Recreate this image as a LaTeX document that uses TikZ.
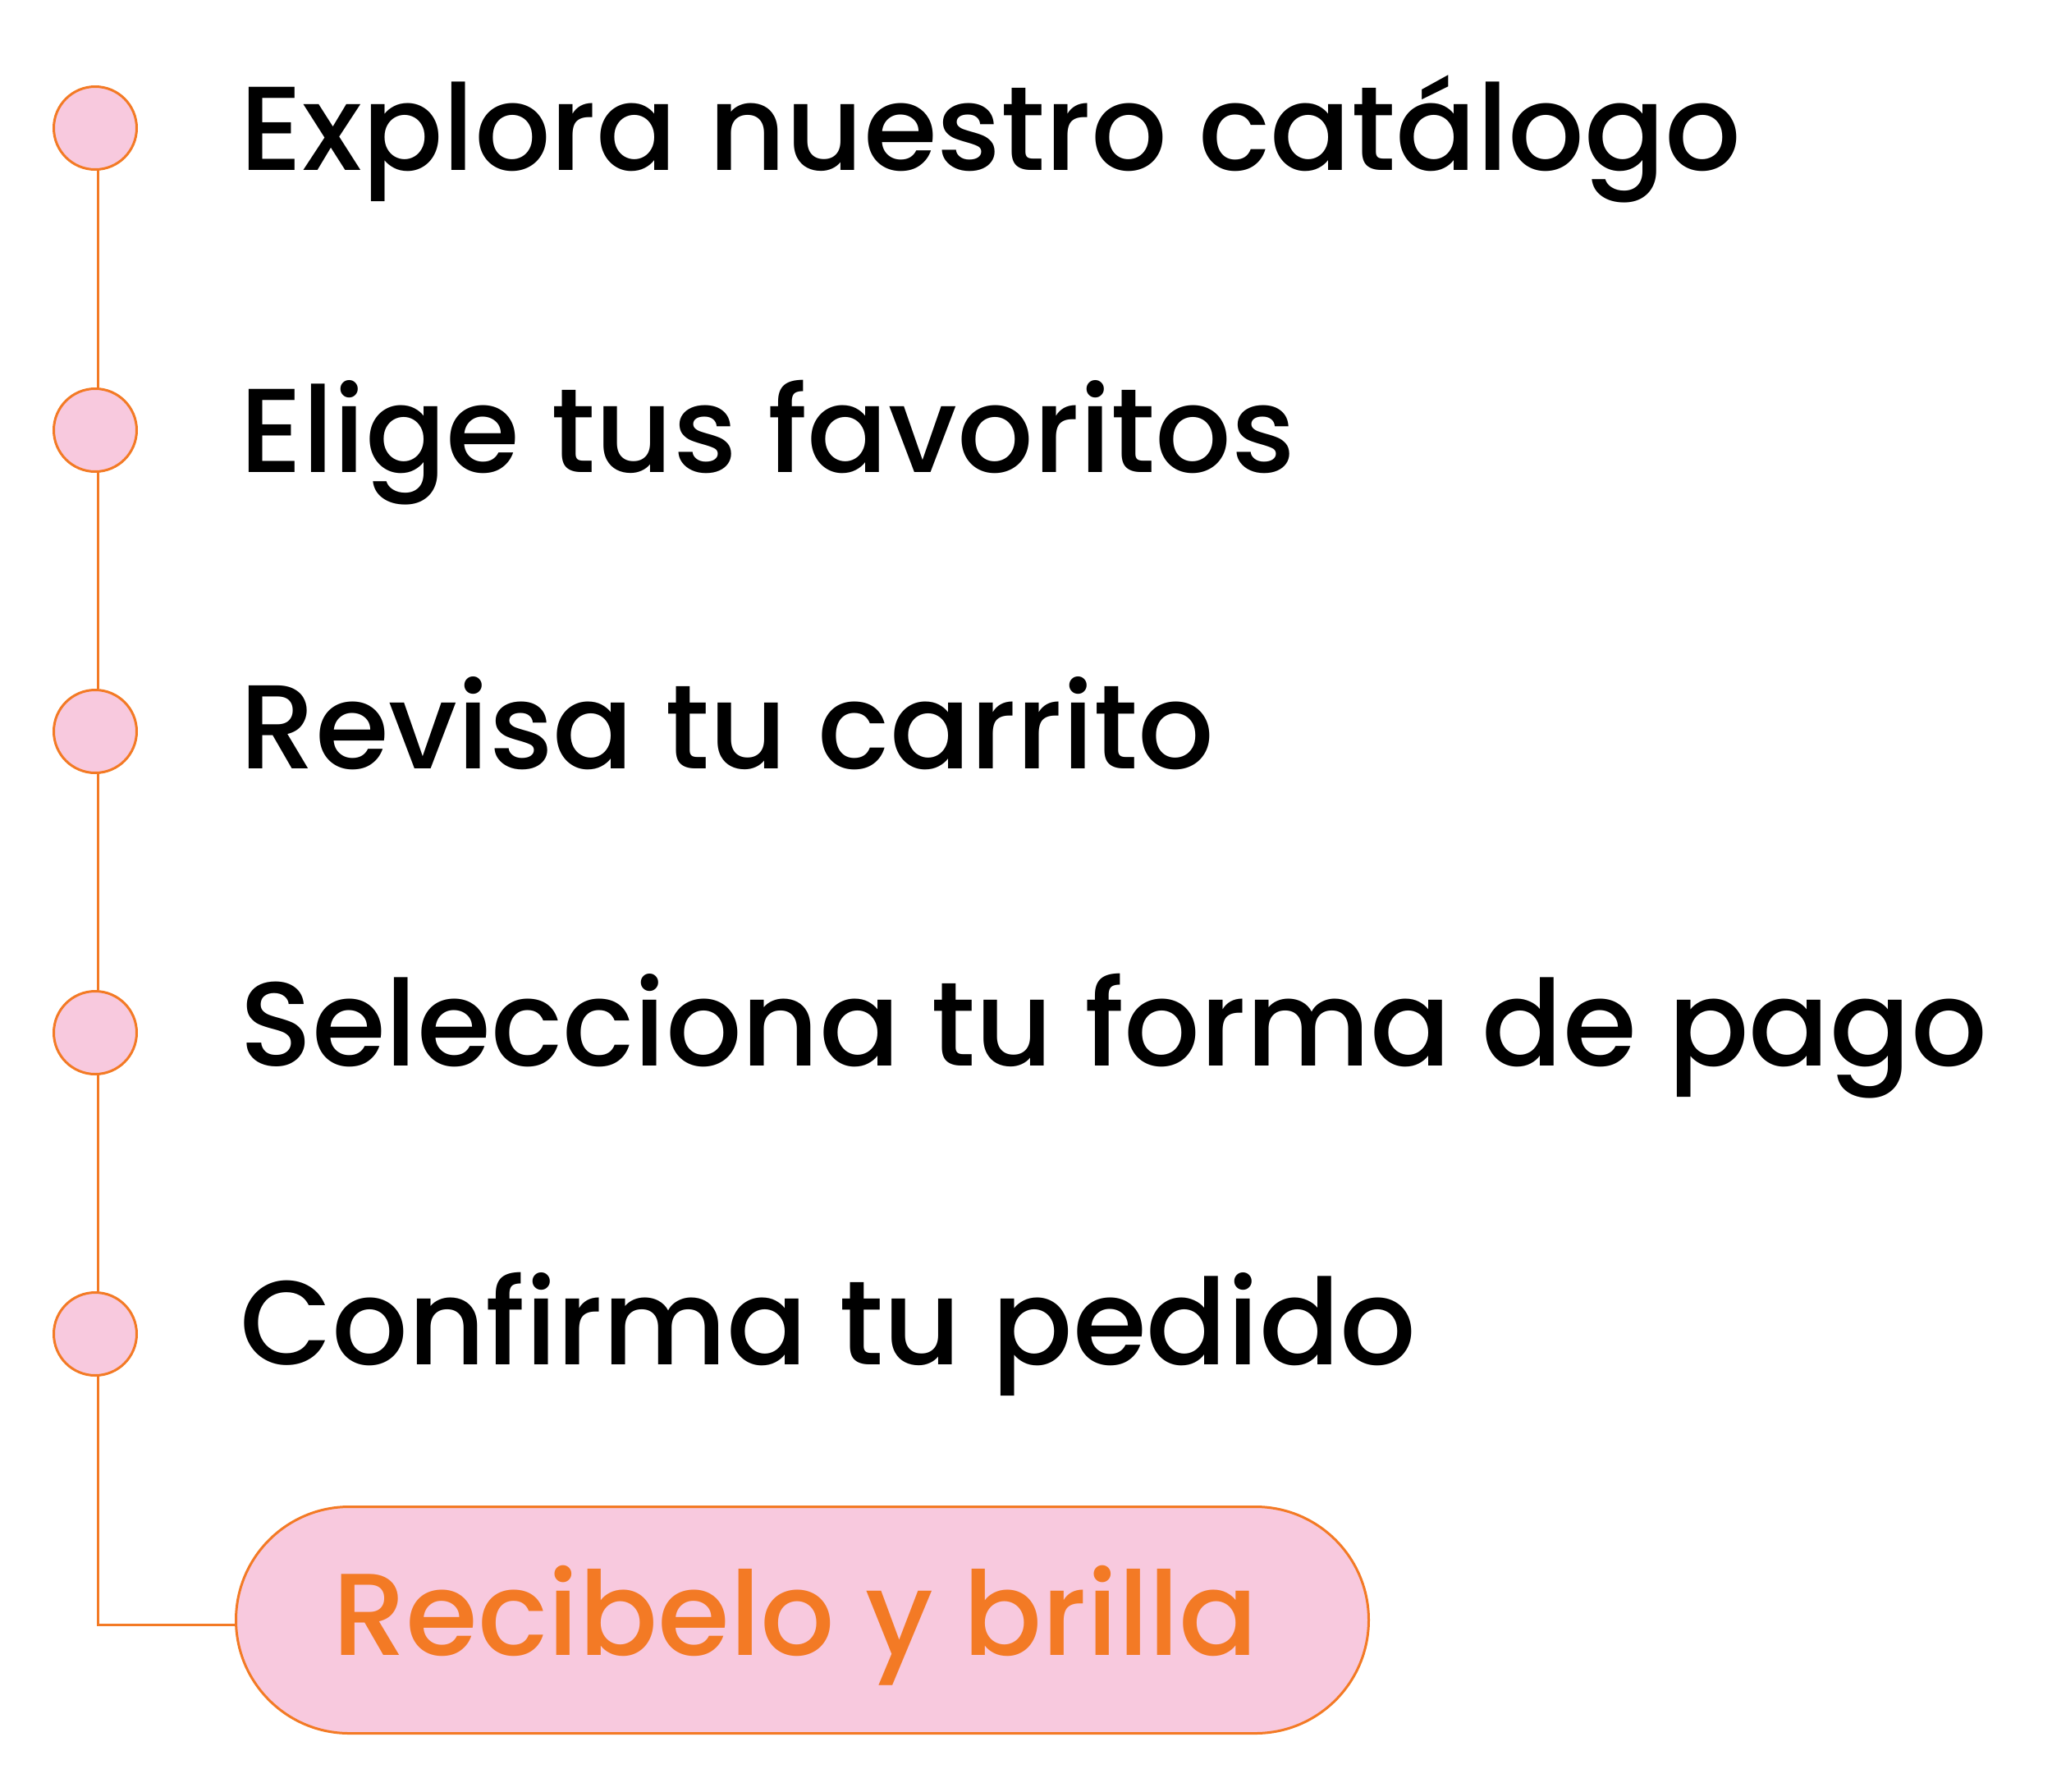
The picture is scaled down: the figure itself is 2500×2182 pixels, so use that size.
\documentclass[tikz,border=0pt]{standalone}
\usepackage{fontspec}
\setmainfont{Poppins}[UprightFont=* Medium]
\definecolor{orng}{HTML}{F37A25}
\definecolor{pnk}{HTML}{F8C9DE}
\begin{document}
\begin{tikzpicture}[x=1pt,y=-1pt]
\tikzset{
  dot/.style={circle, draw=orng, fill=pnk, line width=3pt, minimum size=101pt, inner sep=0pt},
  conn/.style={draw=orng, line width=3pt},
  steptext/.style={anchor=base west, inner sep=0pt, font=\fontsize{145.5}{145.5}\selectfont, text=black},
  pillbox/.style={draw=orng, fill=pnk, line width=3pt, rounded corners=138pt, minimum width=1380pt, minimum height=276pt, inner sep=0pt},
  pilltext/.style={anchor=base west, inner sep=0pt, font=\fontsize{142}{142}\selectfont, text=orng}
}
\useasboundingbox (0,0) rectangle (2500,2182);
\node[dot] (c1) at (116,156) {};
\node[dot] (c2) at (116,524) {};
\node[dot] (c3) at (116,891) {};
\node[dot] (c4) at (116,1258) {};
\node[dot] (c5) at (116,1625) {};
\node[pillbox] (pill) at (977.5,1973.5) {};
\draw[conn] ([xshift=3pt]c1.south) -- ([xshift=3pt]c2.north);
\draw[conn] ([xshift=3pt]c2.south) -- ([xshift=3pt]c3.north);
\draw[conn] ([xshift=3pt]c3.south) -- ([xshift=3pt]c4.north);
\draw[conn] ([xshift=3pt]c4.south) -- ([xshift=3pt]c5.north);
\draw[conn] ([xshift=3pt]c5.south) |- ([yshift=-6pt]pill.west);
\node[steptext] (t1) at (292,207) {Explora nuestro catálogo};
\node[steptext] (t2) at (292,575) {Elige tus favoritos};
\node[steptext] (t3) at (292,936) {Revisa tu carrito};
\node[steptext] (t4) at (292,1298) {Selecciona tu forma de pago};
\node[steptext] (t5) at (292,1662) {Confirma tu pedido};
\node[pilltext] (t6) at (405,2016) {Recibelo y brilla};
\end{tikzpicture}
\end{document}
